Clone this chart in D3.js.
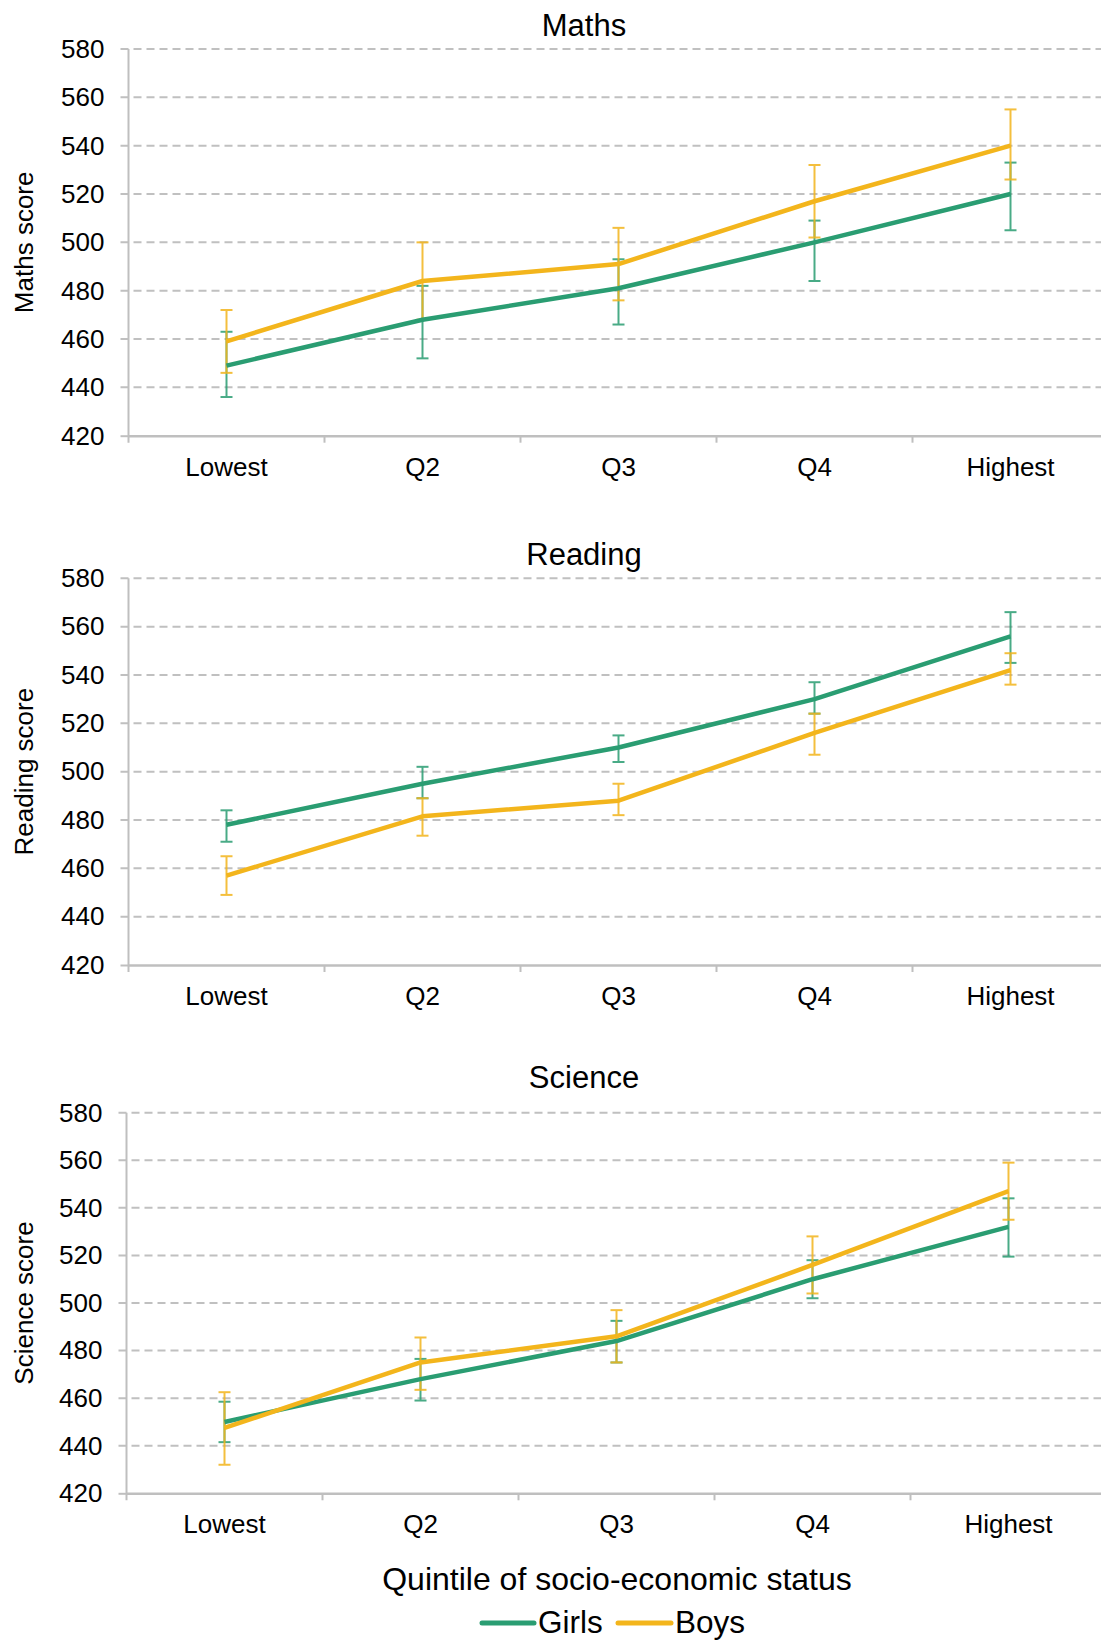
<!DOCTYPE html>
<html>
<head>
<meta charset="utf-8">
<script src="https://cdn.jsdelivr.net/npm/d3@7"></script>
<style>
  html, body { margin: 0; padding: 0; background: #ffffff; }
  svg { display: block; font-family: "Liberation Sans", Arial, sans-serif; }
</style>
</head>
<body>
<svg id="chart" width="1101" height="1641"></svg>
<script>
// ---- Data ----
const categories = ["Lowest", "Q2", "Q3", "Q4", "Highest"];
const seriesNames = ["Girls", "Boys"];
const yTicks = [420, 440, 460, 480, 500, 520, 540, 560, 580];
const xAxisTitle = "Quintile of socio-economic status";

const subjects = ["Maths", "Reading", "Science"];
const yTitles = ["Maths score", "Reading score", "Science score"];

const mathsGirls    = [449, 468, 481, 500, 520];
const mathsGirlsLo  = [436, 452, 466, 484, 505];
const mathsGirlsHi  = [463, 482, 493, 509, 533];
const mathsBoys     = [459, 484, 491, 517, 540];
const mathsBoysLo   = [446, 468, 476, 502, 526];
const mathsBoysHi   = [472, 500, 506, 532, 555];

const readingGirls   = [478, 495, 510, 530, 556];
const readingGirlsLo = [471, 489, 504, 524, 545];
const readingGirlsHi = [484, 502, 515, 537, 566];
const readingBoys    = [457, 481.5, 488, 516, 542];
const readingBoysLo  = [449, 473.5, 482, 507, 536];
const readingBoysHi  = [465, 489, 495, 524, 549];

const scienceGirls   = [450, 468, 484, 510, 532];
const scienceGirlsLo = [441.5, 459, 475, 502, 519.5];
const scienceGirlsHi = [458.5, 476.5, 492.5, 518, 544];
const scienceBoys    = [447.5, 475, 486, 516, 547];
const scienceBoysLo  = [432, 463.5, 475, 504, 535];
const scienceBoysHi  = [462.5, 485.5, 497, 528, 559];

const panelData = [
  [[mathsGirls, mathsGirlsLo, mathsGirlsHi], [mathsBoys, mathsBoysLo, mathsBoysHi]],
  [[readingGirls, readingGirlsLo, readingGirlsHi], [readingBoys, readingBoysLo, readingBoysHi]],
  [[scienceGirls, scienceGirlsLo, scienceGirlsHi], [scienceBoys, scienceBoysLo, scienceBoysHi]]
];

// ---- Layout / style ----
const colors = ["#2a9d72", "#f3b51c"];
const panels = [
  { left: 128.5, top: 49,     bottom: 435.7,  titleGap: 13 },
  { left: 128.5, top: 578.3,  bottom: 965,    titleGap: 13 },
  { left: 126.5, top: 1112.7, bottom: 1493.3, titleGap: 25 }
];
const bandW = 196;
const gridColor = "#c0c0c0";
const axisColor = "#bfbfbf";

const svg = d3.select("#chart");

panels.forEach((p, pi) => {
  const plotW = bandW * categories.length;
  const plotH = p.bottom - p.top;
  const g = svg.append("g").attr("transform", `translate(${p.left},${p.top})`);

  const x = d3.scaleBand().domain(categories).range([0, plotW]).padding(0);
  const y = d3.scaleLinear().domain([420, 580]).range([plotH, 0]);

  // gridlines
  g.append("g").selectAll("line").data(yTicks.filter(t => t > 420)).join("line")
    .attr("x1", -8).attr("x2", plotW)
    .attr("y1", d => y(d)).attr("y2", d => y(d))
    .attr("stroke", gridColor).attr("stroke-width", 2)
    .attr("stroke-dasharray", "8,5");

  // y axis labels
  const yAxis = g.append("g")
    .call(d3.axisLeft(y).tickValues(yTicks).tickSize(8).tickPadding(16));
  yAxis.select(".domain").remove();
  yAxis.selectAll(".tick line").attr("stroke", axisColor).attr("stroke-width", 2)
    .attr("display", d => d === 420 ? null : "none");
  yAxis.selectAll(".tick text").attr("font-size", 26).attr("fill", "#000")
    .attr("font-family", "Liberation Sans, Arial, sans-serif");

  // y axis line
  g.append("line").attr("x1", 0).attr("x2", 0).attr("y1", 0).attr("y2", plotH + 7)
    .attr("stroke", axisColor).attr("stroke-width", 2);

  // x axis
  const xAxis = g.append("g").attr("transform", `translate(0,${plotH})`)
    .call(d3.axisBottom(x).tickSize(0).tickPadding(21.5));
  xAxis.select(".domain").attr("stroke", axisColor).attr("stroke-width", 2.5);
  xAxis.selectAll(".tick text").attr("font-size", 26).attr("fill", "#000")
    .attr("font-family", "Liberation Sans, Arial, sans-serif");
  // category boundary ticks
  g.append("g").selectAll("line").data(categories.slice(1)).join("line")
    .attr("x1", d => x(d)).attr("x2", d => x(d))
    .attr("y1", plotH).attr("y2", plotH + 7)
    .attr("stroke", axisColor).attr("stroke-width", 2);

  // title
  svg.append("text").attr("x", 584).attr("y", p.top - p.titleGap)
    .attr("text-anchor", "middle").attr("font-size", 31).attr("fill", "#000")
    .text(subjects[pi]);

  // y title
  svg.append("text")
    .attr("transform", `translate(33,${p.top + plotH / 2}) rotate(-90)`)
    .attr("text-anchor", "middle").attr("font-size", 26).attr("fill", "#000")
    .text(yTitles[pi]);

  const cx = c => x(c) + x.bandwidth() / 2;

  // error bars
  panelData[pi].forEach((s, si) => {
    const [vals, lo, hi] = s;
    const eg = g.append("g").attr("stroke", colors[si]).attr("stroke-width", 2)
      .attr("opacity", 0.85);
    categories.forEach((c, i) => {
      eg.append("line").attr("x1", cx(c)).attr("x2", cx(c))
        .attr("y1", y(lo[i])).attr("y2", y(hi[i]));
      [lo[i], hi[i]].forEach(v => {
        eg.append("line").attr("x1", cx(c) - 6).attr("x2", cx(c) + 6)
          .attr("y1", y(v)).attr("y2", y(v));
      });
    });
  });

  // lines
  panelData[pi].forEach((s, si) => {
    const vals = s[0];
    const line = d3.line().x((d, i) => cx(categories[i])).y(d => y(d));
    g.append("path").datum(vals).attr("d", line)
      .attr("fill", "none").attr("stroke", colors[si]).attr("stroke-width", 4.5)
      .attr("stroke-linejoin", "round");
  });
});

// x axis title
svg.append("text").attr("x", 617).attr("y", 1590)
  .attr("text-anchor", "middle").attr("font-size", 32).attr("fill", "#000")
  .text(xAxisTitle);

// legend
const legendItems = [
  { x1: 482, x2: 534, tx: 538 },
  { x1: 618, x2: 671, tx: 675 }
];
seriesNames.forEach((n, i) => {
  const it = legendItems[i];
  svg.append("line").attr("x1", it.x1).attr("x2", it.x2)
    .attr("y1", 1623).attr("y2", 1623)
    .attr("stroke", colors[i]).attr("stroke-width", 5).attr("stroke-linecap", "round");
  svg.append("text").attr("x", it.tx).attr("y", 1633)
    .attr("font-size", 31.5).attr("fill", "#000").text(n);
});
</script>
</body>
</html>
